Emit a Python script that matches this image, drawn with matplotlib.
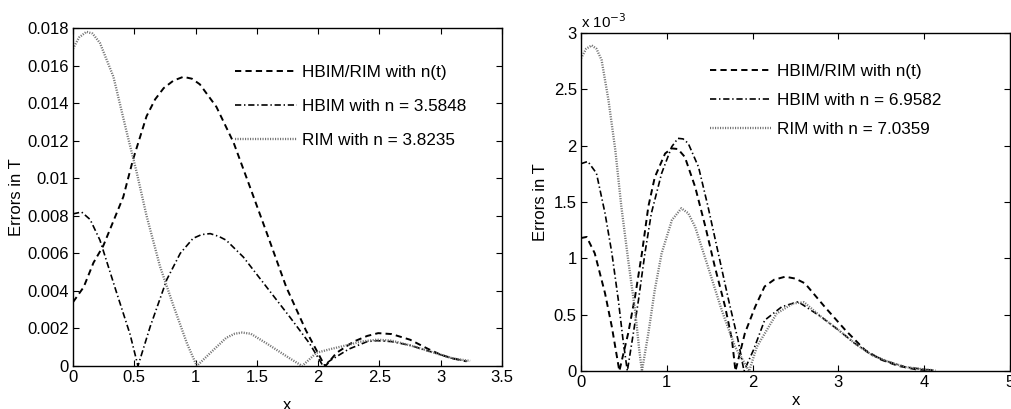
import matplotlib
matplotlib.use("Agg")
import matplotlib.pyplot as plt
from matplotlib.ticker import FuncFormatter

plt.rcParams['font.family'] = ['Liberation Sans', 'DejaVu Sans']
plt.rcParams['lines.scale_dashes'] = False

# ---------------- Left panel data ----------------
left_labels = ["HBIM/RIM with n(t)", "HBIM with n = 3.5848", "RIM with n = 3.8235"]

xl_dash = [0, 0.087, 0.167, 0.247, 0.41, 0.49, 0.60, 0.67, 0.74, 0.82, 0.90, 0.97, 1.035, 1.17,
           1.31, 1.44, 1.58, 1.74, 1.90, 2.03, 2.06, 2.15, 2.29, 2.40, 2.49, 2.60, 2.75, 2.90,
           3.0, 3.1, 3.21]
yl_dash = [0.0034, 0.0042, 0.0055, 0.0064, 0.0090, 0.0110, 0.0133, 0.0142, 0.0148, 0.0152,
           0.0154, 0.0153, 0.0150, 0.0138, 0.0119, 0.0096, 0.0071, 0.0042, 0.0019, 0.0003, 0.0,
           0.0007, 0.0013, 0.0016, 0.00175, 0.0017, 0.0014, 0.0009, 0.0006, 0.0004, 0.00025]

xl_dd = [0, 0.07, 0.14, 0.22, 0.356, 0.465, 0.53, 0.63, 0.765, 0.875, 0.98, 1.05, 1.12, 1.19,
         1.25, 1.39, 1.58, 1.77, 1.93, 2.04, 2.10, 2.25, 2.40, 2.48, 2.60, 2.75, 2.90, 3.0, 3.1,
         3.21]
yl_dd = [0.0081, 0.0082, 0.0078, 0.0067, 0.0039, 0.0017, 0.0, 0.0021, 0.0046, 0.0060, 0.0068,
         0.0070, 0.00705, 0.0069, 0.0067, 0.0058, 0.0042, 0.0026, 0.0012, 0.0, 0.0003, 0.0009,
         0.0013, 0.00135, 0.0013, 0.0011, 0.0008, 0.0006, 0.0004, 0.00025]

xl_dot = [0, 0.05, 0.11, 0.16, 0.22, 0.33, 0.44, 0.52, 0.60, 0.71, 0.82, 0.93, 1.01, 1.145,
          1.25, 1.32, 1.38, 1.45, 1.58, 1.77, 1.87, 1.985, 2.10, 2.23, 2.35, 2.48, 2.60, 2.75,
          2.90, 3.0, 3.1, 3.24]
yl_dot = [0.0169, 0.0175, 0.0178, 0.0177, 0.0172, 0.0154, 0.0124, 0.0103, 0.0080, 0.0053,
          0.0032, 0.0012, 0.0, 0.00085, 0.0015, 0.00172, 0.00178, 0.00172, 0.0012, 0.0004, 0.0,
          0.0007, 0.0009, 0.0011, 0.0013, 0.0014, 0.00135, 0.0011, 0.0008, 0.0006, 0.0004,
          0.00027]

left_xticks = [0, 0.5, 1, 1.5, 2, 2.5, 3, 3.5]
left_yticks = [0, 0.002, 0.004, 0.006, 0.008, 0.01, 0.012, 0.014, 0.016, 0.018]

# ---------------- Right panel data (values in units of 1e-3) ----------------
right_labels = ["HBIM/RIM with n(t)", "HBIM with n = 6.9582", "RIM with n = 7.0359"]
right_scale = 1e-3

xr_dash = [0, 0.066, 0.16, 0.28, 0.36, 0.447, 0.55, 0.63, 0.71, 0.785, 0.86, 0.98, 1.057,
           1.13, 1.21, 1.33, 1.45, 1.56, 1.68, 1.76, 1.80, 1.91, 2.03, 2.14, 2.25, 2.38, 2.50,
           2.61, 2.84, 3.08, 3.31, 3.5, 3.7, 3.9, 4.1]
yr_dash = [1.18, 1.19, 1.045, 0.69, 0.39, 0.0, 0.335, 0.66, 1.045, 1.46, 1.72, 1.93, 1.976,
           1.97, 1.90, 1.635, 1.28, 0.925, 0.57, 0.275, 0.0, 0.335, 0.57, 0.75, 0.81, 0.837,
           0.82, 0.778, 0.57, 0.364, 0.186, 0.10, 0.045, 0.015, 0.003]

xr_dd = [0, 0.08, 0.18, 0.28, 0.36, 0.435, 0.49, 0.54, 0.61, 0.67, 0.745, 0.82, 0.94, 1.057,
         1.13, 1.19, 1.25, 1.37, 1.48, 1.60, 1.72, 1.83, 1.90, 2.01, 2.14, 2.34, 2.53, 2.80,
         3.0, 3.19, 3.39, 3.58, 3.78, 3.99, 4.13]
yr_dd = [1.84, 1.86, 1.755, 1.40, 1.045, 0.63, 0.275, 0.0, 0.335, 0.63, 1.045, 1.40, 1.755,
         1.99, 2.065, 2.06, 2.02, 1.81, 1.46, 1.045, 0.63, 0.275, 0.0, 0.186, 0.45, 0.57,
         0.615, 0.48, 0.364, 0.246, 0.142, 0.083, 0.035, 0.015, 0.005]

xr_dot = [0, 0.06, 0.125, 0.18, 0.24, 0.32, 0.40, 0.47, 0.55, 0.63, 0.68, 0.71, 0.785, 0.86,
          0.94, 1.06, 1.17, 1.25, 1.33, 1.48, 1.64, 1.795, 1.96, 2.05, 2.28, 2.47, 2.60, 2.80,
          3.0, 3.19, 3.39, 3.58, 3.78, 3.99, 4.13]
yr_dot = [2.775, 2.86, 2.89, 2.86, 2.76, 2.405, 1.96, 1.46, 0.985, 0.54, 0.18, 0.0, 0.335,
          0.72, 1.045, 1.34, 1.444, 1.40, 1.28, 0.925, 0.54, 0.216, 0.0, 0.216, 0.51, 0.60,
          0.61, 0.48, 0.364, 0.246, 0.142, 0.083, 0.035, 0.015, 0.005]

right_xticks = [0, 1, 2, 3, 4, 5]
right_yticks = [0, 0.5, 1, 1.5, 2, 2.5, 3]

# ---------------- Styles ----------------
FS = 12
LFS = 12.3
LW = 1.4
dash_style = (0, (4.5, 3.0))
dd_style = (0, (4.5, 2.0, 1.0, 2.0))
dot_style = (0, (0.8, 1.0))
dot_color = '0.45'

fig = plt.figure(figsize=(10.12, 4.09), dpi=100)
axL = fig.add_axes([73/1012, 1 - 366/409, 429/1012, 338/409])
axR = fig.add_axes([581/1012, 1 - 371/409, 429/1012, 338/409])


def style_axes(ax):
    ax.tick_params(direction='in', top=True, right=True, length=4, width=0.8,
                   labelsize=FS, pad=3)
    for s in ax.spines.values():
        s.set_linewidth(1.0)


# Left
axL.plot(xl_dash, yl_dash, color='k', lw=LW, linestyle=dash_style, label=left_labels[0])
axL.plot(xl_dd, yl_dd, color='k', lw=LW * 0.85, linestyle=dd_style, label=left_labels[1])
axL.plot(xl_dot, yl_dot, color=dot_color, lw=LW * 1.2, linestyle=dot_style, label=left_labels[2])
axL.set_xlim(0, 3.5)
axL.set_ylim(0, 0.018)
axL.set_xticks(left_xticks)
axL.set_yticks(left_yticks)
axL.xaxis.set_major_formatter(FuncFormatter(lambda v, p: f'{v:g}'))
axL.yaxis.set_major_formatter(FuncFormatter(lambda v, p: f'{v:g}'))
axL.set_xlabel('x', fontsize=FS, labelpad=9)
axL.set_ylabel('Errors in T', fontsize=FS, labelpad=2)
style_axes(axL)
axL.legend(loc='upper right', bbox_to_anchor=(0.933, 0.91), frameon=False, fontsize=LFS,
           handlelength=3.6, handletextpad=0.3, labelspacing=1.1, borderaxespad=0)

# Right
axR.plot(xr_dash, [v * right_scale for v in yr_dash], color='k', lw=LW,
         linestyle=dash_style, label=right_labels[0])
axR.plot(xr_dd, [v * right_scale for v in yr_dd], color='k', lw=LW * 0.85,
         linestyle=dd_style, label=right_labels[1])
axR.plot(xr_dot, [v * right_scale for v in yr_dot], color=dot_color, lw=LW * 1.2,
         linestyle=dot_style, label=right_labels[2])
axR.set_xlim(0, 5)
axR.set_ylim(0, 3 * right_scale)
axR.set_xticks(right_xticks)
axR.set_yticks([v * right_scale for v in right_yticks])
axR.xaxis.set_major_formatter(FuncFormatter(lambda v, p: f'{v:g}'))
axR.yaxis.set_major_formatter(FuncFormatter(lambda v, p: f'{v / right_scale:g}'))
axR.set_xlabel('x', fontsize=FS, labelpad=2)
axR.set_ylabel('Errors in T', fontsize=FS, labelpad=4)
style_axes(axR)
axR.text(0.0, 1.005, r'x 10$^{-3}$', transform=axR.transAxes, ha='left', va='bottom',
         fontsize=FS * 0.9)
axR.legend(loc='upper right', bbox_to_anchor=(0.855, 0.928), frameon=False, fontsize=LFS,
           handlelength=3.6, handletextpad=0.3, labelspacing=0.82, borderaxespad=0)

fig.savefig('out.png', dpi=100)
